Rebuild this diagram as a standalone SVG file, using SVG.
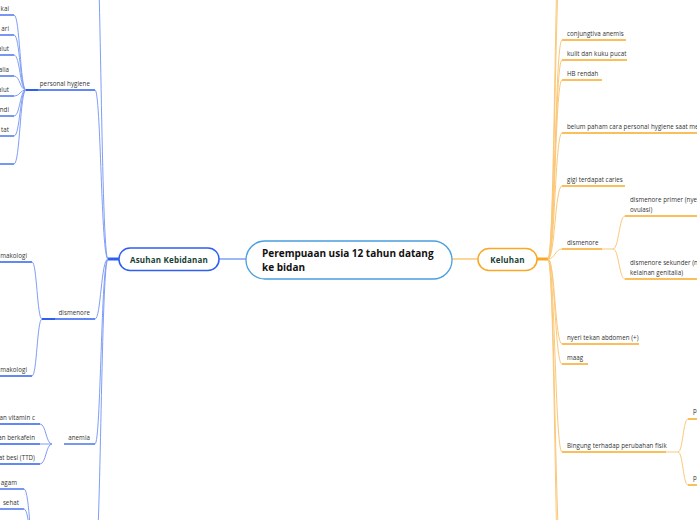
<svg xmlns="http://www.w3.org/2000/svg" width="697" height="520" viewBox="0 0 697 520">
<style>
.lbl{font-family:"Open Sans",sans-serif;font-size:6.2px;fill:#333;letter-spacing:0.05px}
.end{text-anchor:end}
.bu{stroke:#2f5ff0;stroke-width:1.3;fill:none}
.bc{stroke:#7f9ef6;stroke-width:1;fill:none}
.ou{stroke:#f9a825;stroke-width:1.5;fill:none}
.oc{stroke:#fbc878;stroke-width:1;fill:none}
.nt{font-family:"Open Sans",sans-serif;font-weight:bold;font-size:8px;fill:#173f35;text-anchor:middle;letter-spacing:0.2px}
</style>
<rect width="697" height="520" fill="#fff"/>
<g id="connectors">
<path d="M219 259H246" stroke="#7ea0f5" stroke-width="1.5"/>
<path d="M452 259H478" stroke="#fcc777" stroke-width="1.5"/>
<path d="M119 259H108" stroke="#2f5ff0" stroke-width="3"/>
<path d="M537 259H548" stroke="#f9a825" stroke-width="3"/>
<path class="oc" d="M548 259C555 259 555 -120 562 -120"/>
<path class="oc" d="M548 259C555 259 555 -60 562 -60"/>
<path class="oc" d="M548 259C555 259 555 40 562 40"/>
<path class="oc" d="M548 259C555 259 555 60 562 60"/>
<path class="oc" d="M548 259C555 259 555 80 562 80"/>
<path class="oc" d="M548 259C555 259 555 133 562 133"/>
<path class="oc" d="M548 259C555 259 555 186 562 186"/>
<path class="oc" d="M548 259C555 259 555 249 562 249"/>
<path class="oc" d="M548 259C555 259 555 344 562 344"/>
<path class="oc" d="M548 259C555 259 555 364 562 364"/>
<path class="oc" d="M548 259C555 259 555 452 562 452"/>
<path class="oc" d="M548 259C555 259 555 570 562 570"/>
<path class="oc" d="M548 259C555 259 555 640 562 640"/>
<path class="oc" stroke-width="2" d="M602 249H613"/>
<path class="oc" d="M613 249C619 249 619 216 625 216"/>
<path class="oc" d="M613 249C619 249 619 279 625 279"/>
<path class="oc" stroke-width="2" d="M666 452H678"/>
<path class="oc" d="M678 452C683 452 683 419 688 419"/>
<path class="oc" d="M678 452C683 452 683 485 688 485"/>
<path class="bc" d="M108 259C101 259 101 -80 95 -80"/>
<path class="bc" d="M108 259C101 259 101 90 95 90"/>
<path class="bc" d="M108 259C101 259 101 319 95 319"/>
<path class="bc" d="M108 259C101 259 101 444 95 444"/>
<path class="bc" d="M108 259C101 259 101 560 95 560"/>
<path class="bc" d="M26 90C20 90 20 15 14 15"/>
<path class="bc" d="M26 90C20 90 20 35 14 35"/>
<path class="bc" d="M26 90C20 90 20 55 14 55"/>
<path class="bc" d="M26 90C20 90 20 76 14 76"/>
<path class="bc" d="M26 90C20 90 20 96 14 96"/>
<path class="bc" d="M26 90C20 90 20 116 14 116"/>
<path class="bc" d="M26 90C20 90 20 136 14 136"/>
<path class="bc" d="M26 90C20 90 20 164 14 164"/>
<path class="bc" d="M42 319C37 319 37 262 32 262"/>
<path class="bc" d="M42 319C37 319 37 376 32 376"/>
<path class="bc" d="M52 444C46 444 46 424 40 424"/>
<path class="bc" d="M52 444H40"/>
<path class="bc" d="M52 444C46 444 46 464 40 464"/>
<path class="bc" d="M36 560C30 560 30 489 24 489"/>
<path class="bc" d="M36 560C30 560 30 509 24 509"/>
</g>
<g id="central">
<rect x="246" y="241" width="206" height="38" rx="19" fill="#fff" stroke="#4a9fe0" stroke-width="1.3"/>
<text x="262" y="257" font-family="'Open Sans',sans-serif" font-weight="bold" font-size="10" fill="#111">Perempuaan usia 12 tahun datang</text>
<text x="262" y="271" font-family="'Open Sans',sans-serif" font-weight="bold" font-size="10" fill="#111">ke bidan</text>
</g>
<g id="asuhan">
<rect x="119" y="248" width="100" height="22.5" rx="11" fill="#fff" stroke="#2f5ff0" stroke-width="1.5"/>
<text class="nt" x="169" y="262.5">Asuhan Kebidanan</text>
</g>
<g id="keluhan">
<rect x="478" y="248.5" width="59" height="22" rx="11" fill="#fff" stroke="#f9a825" stroke-width="1.5"/>
<text class="nt" x="507.5" y="262.5">Keluhan</text>
</g>
<g id="r1"><path class="ou" d="M562 40H626"/><text class="lbl" x="567" y="36">conjungtiva anemis</text></g>
<g id="r2"><path class="ou" d="M562 60H627"/><text class="lbl" x="567" y="56">kulit dan kuku pucat</text></g>
<g id="r3"><path class="ou" d="M562 80H602"/><text class="lbl" x="567" y="76">HB rendah</text></g>
<g id="r4"><path class="ou" d="M562 133H700"/><text class="lbl" x="567" y="129">belum paham cara personal hygiene saat men</text></g>
<g id="r5"><path class="ou" d="M562 186H625"/><text class="lbl" x="567" y="182">gigi terdapat caries</text></g>
<g id="r6"><path class="ou" d="M562 249H602"/><text class="lbl" x="567" y="245">dismenore</text></g>
<g id="r6a"><path class="ou" d="M625 216H700"/><text class="lbl" x="630" y="202">dismenore primer (nyeri</text><text class="lbl" x="630" y="212">ovulasi)</text></g>
<g id="r6b"><path class="ou" d="M625 279H700"/><text class="lbl" x="630" y="265">dismenore sekunder (ny</text><text class="lbl" x="630" y="275">kelainan genitalia)</text></g>
<g id="r7"><path class="ou" d="M562 344H639"/><text class="lbl" x="567" y="340">nyeri tekan abdomen (+)</text></g>
<g id="r8"><path class="ou" d="M562 364H588"/><text class="lbl" x="567" y="360">maag</text></g>
<g id="r9"><path class="ou" d="M562 452H666"/><text class="lbl" x="567" y="448">Bingung terhadap perubahan fisik</text></g>
<g id="r9a"><path class="ou" d="M688 419H700"/><text class="lbl" x="693" y="413">p</text></g>
<g id="r9b"><path class="ou" d="M688 485H700"/><text class="lbl" x="693" y="480">p</text></g>
<g id="l1"><path class="bu" d="M26 90H95"/><path d="M26 90H38" stroke="#2f5ff0" stroke-width="2"/><text class="lbl end" x="90" y="86">personal hygiene</text></g>
<g id="l1a"><path class="bu" d="M-5 15H14"/><text class="lbl end" x="9" y="10.5">kai</text></g>
<g id="l1b"><path class="bu" d="M-5 35H14"/><text class="lbl end" x="9" y="30.5">ari</text></g>
<g id="l1c"><path class="bu" d="M-5 55H14"/><text class="lbl end" x="9" y="50.5">alut</text></g>
<g id="l1d"><path class="bu" d="M-5 76H14"/><text class="lbl end" x="9" y="71.5">alia</text></g>
<g id="l1e"><path class="bu" d="M-5 96H14"/><text class="lbl end" x="9" y="91.5">alut</text></g>
<g id="l1f"><path class="bu" d="M-5 116H14"/><text class="lbl end" x="9" y="111.5">ndi</text></g>
<g id="l1g"><path class="bu" d="M-5 136H14"/><text class="lbl end" x="9" y="131.5">tat</text></g>
<g id="l1h"><path class="bu" d="M-5 164H14"/></g>
<g id="l2"><path class="bu" d="M42 319H95"/><path d="M42 319H55" stroke="#2f5ff0" stroke-width="2"/><text class="lbl end" x="90" y="315">dismenore</text></g>
<g id="l2a"><path class="bu" d="M-5 262H32"/><text class="lbl end" x="27" y="257.5">makologi</text></g>
<g id="l2b"><path class="bu" d="M-5 376H32"/><text class="lbl end" x="27" y="371.5">makologi</text></g>
<g id="l3"><path class="bu" d="M64 444H95"/><text class="lbl end" x="90" y="440">anemia</text></g>
<g id="l3a"><path class="bu" d="M-5 424H40"/><text class="lbl end" x="35" y="419.5">nan vitamin c</text></g>
<g id="l3b"><path class="bu" d="M-5 444H40"/><text class="lbl end" x="35" y="439.5">an berkafein</text></g>
<g id="l3c"><path class="bu" d="M-5 464H40"/><text class="lbl end" x="35" y="459.5">at besi (TTD)</text></g>
<g id="l4a"><path class="bu" d="M-5 489H24"/><text class="lbl end" x="17" y="484.5">agam</text></g>
<g id="l4b"><path class="bu" d="M-5 509H24"/><text class="lbl end" x="19" y="504.5">sehat</text></g>
</svg>
